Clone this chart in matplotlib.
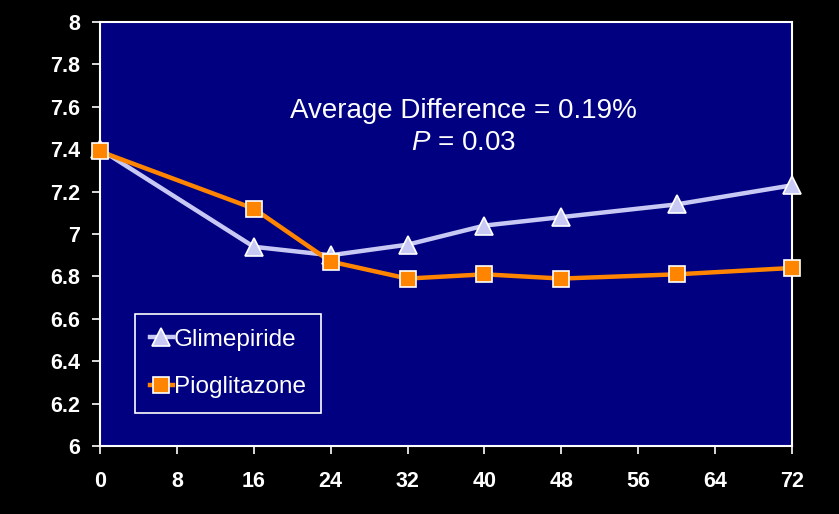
import matplotlib
matplotlib.use("Agg")
import matplotlib.pyplot as plt

weeks_glim = [0, 16, 24, 32, 40, 48, 60, 72]
hba1c_glim = [7.40, 6.94, 6.90, 6.95, 7.04, 7.08, 7.14, 7.23]
weeks_pio = [0, 16, 24, 32, 40, 48, 60, 72]
hba1c_pio = [7.39, 7.12, 6.87, 6.79, 6.81, 6.79, 6.81, 6.84]
x_ticks = [0, 8, 16, 24, 32, 40, 48, 56, 64, 72]
y_ticks = [6, 6.2, 6.4, 6.6, 6.8, 7, 7.2, 7.4, 7.6, 7.8, 8]
y_labels = ["6", "6.2", "6.4", "6.6", "6.8", "7", "7.2", "7.4", "7.6", "7.8", "8"]

plt.rcParams['font.family'] = ['Liberation Sans', 'DejaVu Sans']
plt.rcParams['mathtext.fontset'] = 'custom'
plt.rcParams['mathtext.rm'] = 'Liberation Sans'
plt.rcParams['mathtext.it'] = 'Liberation Sans:italic'

fig = plt.figure(figsize=(8.39, 5.14), dpi=100, facecolor='black')
ax = fig.add_axes([0.1192, 0.1323, 0.8248, 0.8247])
ax.set_facecolor('#000080')

ax.plot(weeks_glim, hba1c_glim, color='#c8c8f4', lw=3.2, marker='^', ms=13,
        mfc='#c8c8f4', mec='white', mew=1.2, label='Glimepiride', clip_on=False, zorder=3)
ax.plot(weeks_pio, hba1c_pio, color='#ff8400', lw=3.2, marker='s', ms=11,
        mfc='#ff8400', mec='white', mew=1.2, label='Pioglitazone', clip_on=False, zorder=4)

ax.set_xlim(0, 72)
ax.set_ylim(6, 8)
ax.set_xticks(x_ticks)
ax.set_yticks(y_ticks)
ax.set_yticklabels(y_labels)
ax.tick_params(colors='white', labelsize=15.5, length=6, width=1.2, direction='out')
ax.tick_params(axis='x', pad=12)
ax.tick_params(axis='y', pad=8)
for lab in ax.get_xticklabels() + ax.get_yticklabels():
    lab.set_fontweight('bold')
for s in ax.spines.values():
    s.set_color('white')
    s.set_linewidth(1.5)

ax.text(0.525, 0.79, 'Average Difference = 0.19%', transform=ax.transAxes,
        ha='center', va='center', color='white', fontsize=20)
ax.text(0.525, 0.715, '$\\it{P}$ = 0.03', transform=ax.transAxes,
        ha='center', va='center', color='white', fontsize=20)

leg = ax.legend(loc='lower left', bbox_to_anchor=(0.051, 0.078), fontsize=17.5,
                facecolor='#000080', edgecolor='white', labelcolor='white',
                fancybox=False, framealpha=1, handlelength=0.95, handletextpad=0.05,
                labelspacing=1.05, borderpad=0.6, borderaxespad=0)
leg.get_frame().set_linewidth(1.2)

fig.savefig('out.png', dpi=100, facecolor='black')
